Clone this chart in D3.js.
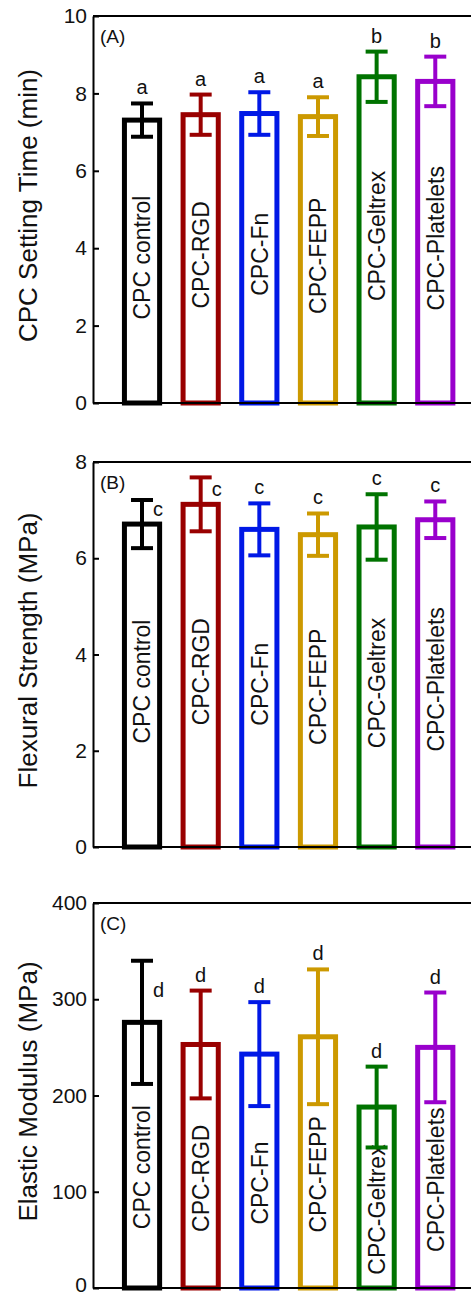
<!DOCTYPE html>
<html lang="en">
<head>
    <meta charset="UTF-8">
    <title>CPC properties</title>
    <script src="https://d3js.org/d3.v7.min.js"></script>
    <style>
        body, html { margin: 0; padding: 0; background: #fff; }
        svg text { font-family: "Liberation Sans", Arial, sans-serif; }
    </style>
</head>
<body>
    <div id="chart"></div>
    <script>
        // data
        const groups = ["CPC control", "CPC-RGD", "CPC-Fn", "CPC-FEPP", "CPC-Geltrex", "CPC-Platelets"];
        const groupColors = ["#000000", "#990000", "#0018e6", "#cc9900", "#007300", "#9900cc"];

        const settingTime = [7.31, 7.45, 7.48, 7.40, 8.43, 8.31];
        const settingTimeSd = [0.43, 0.52, 0.55, 0.50, 0.65, 0.64];
        const settingLetters = ["a", "a", "a", "a", "b", "b"];

        const flexural = [6.71, 7.12, 6.60, 6.49, 6.65, 6.80];
        const flexuralSd = [0.50, 0.56, 0.54, 0.44, 0.68, 0.38];
        const flexuralLetters = ["c", "c", "c", "c", "c", "c"];

        const modulus = [276, 253, 243, 261, 188, 250];
        const modulusSd = [64, 56, 54, 70, 42, 57];
        const modulusLetters = ["d", "d", "d", "d", "d", "d"];

        const width = 471, height = 1297;
        const axisX = 93;

        const panels = [
            { tag: "(A)", title: "CPC Setting Time (min)", mean: settingTime, sd: settingTimeSd, letters: settingLetters,
              top: 16, bottom: 403, max: 10, step: 2, labelShift: -4, side: [0, 0, 0, 0, 0, 0], sideDy: 0 },
            { tag: "(B)", title: "Flexural Strength (MPa)", mean: flexural, sd: flexuralSd, letters: flexuralLetters,
              top: 462, bottom: 847, max: 8, step: 2, labelShift: -4, side: [1, 1, 0, 0, 0, 0], sideDy: -8 },
            { tag: "(C)", title: "Elastic Modulus (MPa)", mean: modulus, sd: modulusSd, letters: modulusLetters,
              top: 903, bottom: 1288, max: 400, step: 100, labelShift: 12, side: [1, 0, 0, 0, 0, 0], sideDy: -25 }
        ];

        const svg = d3.select("#chart").append("svg")
            .attr("width", width)
            .attr("height", height);

        const x = d3.scaleBand()
            .domain(groups)
            .range([112.7, 464.6])
            .paddingInner(0.4)
            .paddingOuter(0.2);

        panels.forEach((p, pi) => {
            const y = d3.scaleLinear().domain([0, p.max]).range([p.bottom, p.top]);
            const g = svg.append("g");
            const rows = groups.map((name, i) => ({ name, i, mean: p.mean[i], sd: p.sd[i], letter: p.letters[i] }));

            // bars
            g.selectAll(".bar")
                .data(rows)
                .enter().append("rect")
                .attr("x", d => x(d.name))
                .attr("y", d => y(d.mean))
                .attr("width", x.bandwidth())
                .attr("height", d => y(0) - y(d.mean))
                .attr("fill", "#fff")
                .attr("stroke", d => groupColors[d.i])
                .attr("stroke-width", 5);

            // group names inside bars
            g.selectAll(".name")
                .data(rows)
                .enter().append("text")
                .attr("transform", d => {
                    const cx = x(d.name) + x.bandwidth() / 2;
                    const cy = (y(d.mean) + y(0)) / 2 + p.labelShift;
                    return "translate(" + cx + "," + cy + ") rotate(-90)";
                })
                .attr("dy", "0.36em")
                .attr("text-anchor", "middle")
                .style("font-size", "23px")
                .attr("fill", "#111")
                .text(d => d.name);

            // error bars
            const err = g.selectAll(".err")
                .data(rows)
                .enter().append("g")
                .attr("stroke", d => groupColors[d.i])
                .attr("stroke-width", 4);
            const cx = d => x(d.name) + x.bandwidth() / 2;
            err.append("line")
                .attr("x1", cx).attr("x2", cx)
                .attr("y1", d => y(d.mean + d.sd))
                .attr("y2", d => y(d.mean - d.sd));
            err.append("line")
                .attr("x1", d => cx(d) - 11).attr("x2", d => cx(d) + 11)
                .attr("y1", d => y(d.mean + d.sd)).attr("y2", d => y(d.mean + d.sd));
            err.append("line")
                .attr("x1", d => cx(d) - 11).attr("x2", d => cx(d) + 11)
                .attr("y1", d => y(d.mean - d.sd)).attr("y2", d => y(d.mean - d.sd));

            // significance letters
            g.selectAll(".letter")
                .data(rows)
                .enter().append("text")
                .attr("x", d => p.side[d.i] ? cx(d) + 11 : cx(d))
                .attr("y", d => p.side[d.i] ? y(d.mean) + p.sideDy : y(d.mean + d.sd) - 9)
                .attr("text-anchor", d => p.side[d.i] ? "start" : "middle")
                .style("font-size", "20px")
                .attr("fill", "#111")
                .text(d => d.letter);

            // frame
            g.append("line")
                .attr("x1", axisX).attr("x2", width + 5)
                .attr("y1", p.top).attr("y2", p.top)
                .attr("stroke", "#000").attr("stroke-width", 2);
            g.append("line")
                .attr("x1", axisX).attr("x2", width + 5)
                .attr("y1", p.bottom).attr("y2", p.bottom)
                .attr("stroke", "#000").attr("stroke-width", 2);

            const axis = d3.axisLeft(y)
                .tickValues(d3.range(0, p.max + p.step / 2, p.step))
                .tickSizeInner(-6)
                .tickSizeOuter(0)
                .tickPadding(6);
            const ax = g.append("g")
                .attr("transform", "translate(" + axisX + ",0)")
                .call(axis);
            ax.select(".domain").attr("stroke-width", 2);
            ax.selectAll(".tick line").attr("stroke-width", 2);
            ax.selectAll(".tick text")
                .style("font-size", "21px")
                .attr("fill", "#111");
            // keep the last zero inside the page
            if (pi === panels.length - 1) {
                ax.selectAll(".tick text").filter(v => v === 0).attr("dy", "0.18em");
            }

            // axis title
            g.append("text")
                .attr("transform", "translate(37," + ((p.top + p.bottom) / 2 - 4) + ") rotate(-90)")
                .attr("text-anchor", "middle")
                .style("font-size", "26px")
                .attr("fill", "#111")
                .text(p.title);

            // panel tag
            g.append("text")
                .attr("x", 100)
                .attr("y", p.top + 27)
                .style("font-size", "19px")
                .attr("fill", "#111")
                .text(p.tag);
        });
    </script>
</body>
</html>
